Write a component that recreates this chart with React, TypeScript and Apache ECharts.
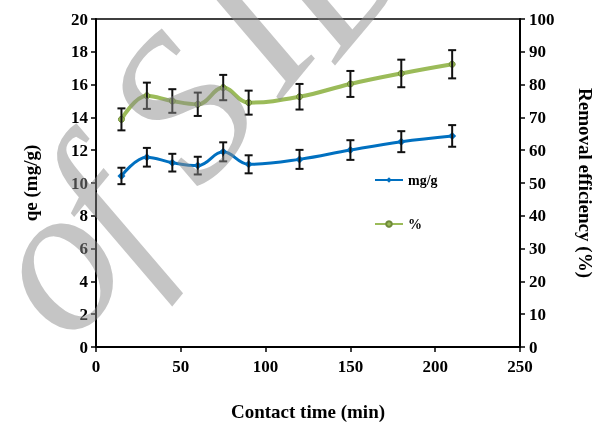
import React, { useEffect, useRef } from "react";
import * as echarts from "echarts";

const times = [15, 30, 45, 60, 75, 90, 120, 150, 180, 210];
const qe = [10.43, 11.57, 11.24, 11.06, 11.9, 11.14, 11.44, 12.01, 12.52, 12.87];
const qeErr = [0.5, 0.57, 0.54, 0.54, 0.58, 0.55, 0.58, 0.6, 0.64, 0.66];
const removal = [69.4, 76.6, 75.0, 74.0, 79.1, 74.5, 76.3, 80.2, 83.4, 86.2];
const removalErr = [3.35, 4.0, 3.6, 3.56, 3.86, 3.66, 3.9, 3.96, 4.2, 4.3];

const watermarkLetters = ["o", "f", "S", "I", "D"];
const watermarkPos = [
  [50, 262],
  [100, 212],
  [180, 107],
  [248, 28],
  [330, -40],
];

const FONT = "'Times New Roman', 'Liberation Serif', serif";

function errSeries(name: string, yIdx: number, vals: number[], errs: number[]) {
  return {
    name,
    type: "custom",
    yAxisIndex: yIdx,
    z: 5,
    data: times.map((t, i) => [t, vals[i] - errs[i], vals[i] + errs[i]]),
    renderItem: (_p: any, api: any) => {
      const lo = api.coord([api.value(0), api.value(1)]);
      const hi = api.coord([api.value(0), api.value(2)]);
      const w = 4;
      const st = { stroke: "#111", lineWidth: 2 };
      return {
        type: "group",
        children: [
          { type: "line", shape: { x1: lo[0], y1: lo[1], x2: hi[0], y2: hi[1] }, style: st },
          { type: "line", shape: { x1: lo[0] - w, y1: lo[1], x2: lo[0] + w, y2: lo[1] }, style: st },
          { type: "line", shape: { x1: hi[0] - w, y1: hi[1], x2: hi[0] + w, y2: hi[1] }, style: st },
        ],
      };
    },
  };
}

export default function App() {
  const ref = useRef<HTMLDivElement>(null);
  useEffect(() => {
    const chart = echarts.init(ref.current!, null, { renderer: "svg" });
    const lbl = { fontFamily: FONT, fontWeight: "bold", fontSize: 17, color: "#000" };
    const axisLine = { show: true, lineStyle: { color: "#000", width: 2 } };
    const tick = { show: true, length: 5, lineStyle: { color: "#000", width: 1.5 } };
    const title = { fontFamily: FONT, fontWeight: "bold", fontSize: 19, color: "#000" };
    chart.setOption({
      animation: false,
      textStyle: { fontFamily: FONT },
      grid: {
        left: 96,
        right: 80,
        top: 19,
        bottom: 78,
        show: true,
        borderColor: "#000",
        borderWidth: 1.5,
        outerBoundsMode: "none",
      },
      legend: {
        data: ["mg/g", "%"],
        orient: "vertical",
        left: 369,
        top: 168,
        itemGap: 30,
        itemWidth: 28,
        itemHeight: 7,
        textStyle: { fontFamily: FONT, fontWeight: "bold", fontSize: 14, color: "#000" },
      },
      xAxis: {
        type: "value",
        min: 0,
        max: 250,
        interval: 50,
        name: "Contact time (min)",
        nameLocation: "middle",
        nameGap: 55,
        nameTextStyle: title,
        axisLine,
        axisTick: tick,
        axisLabel: { ...lbl, margin: 11 },
        splitLine: { show: false },
      },
      yAxis: [
        {
          type: "value",
          min: 0,
          max: 20,
          interval: 2,
          name: "qe (mg/g)",
          nameLocation: "middle",
          nameGap: 56,
          nameRotate: 90,
          nameTextStyle: title,
          axisLine,
          axisTick: tick,
          axisLabel: { ...lbl, margin: 8 },
          splitLine: { show: false },
        },
        {
          type: "value",
          min: 0,
          max: 100,
          interval: 10,
          position: "right",
          name: "Removal efficiency (%)",
          nameLocation: "middle",
          nameGap: 56,
          nameRotate: -90,
          nameTextStyle: title,
          axisLine,
          axisTick: tick,
          axisLabel: { ...lbl, margin: 9 },
          splitLine: { show: false },
        },
      ],
      series: [
        {
          name: "mg/g",
          type: "line",
          yAxisIndex: 0,
          smooth: 0.4,
          data: times.map((t, i) => [t, qe[i]]),
          symbol: "diamond",
          symbolSize: 8,
          itemStyle: { color: "#0070c0" },
          lineStyle: { color: "#0070c0", width: 3 },
          z: 3,
        },
        {
          name: "%",
          type: "line",
          yAxisIndex: 1,
          smooth: 0.4,
          data: times.map((t, i) => [t, removal[i]]),
          symbol: "circle",
          symbolSize: 6,
          itemStyle: { color: "#9bbb59", borderColor: "#6f8a3a", borderWidth: 1 },
          lineStyle: { color: "#9bbb59", width: 4 },
          z: 3,
        },
        errSeries("errQ", 0, qe, qeErr),
        errSeries("errR", 1, removal, removalErr),
      ],
      graphic: watermarkLetters.map((ch, i) => ({
        type: "text",
        x: watermarkPos[i][0],
        y: watermarkPos[i][1],
        rotation: 0.88,
        z: 100,
        silent: true,
        style: {
          text: ch,
          fontFamily: FONT,
          fontStyle: "italic",
          fontSize: 210,
          fill: "rgba(140,140,140,0.5)",
          align: "center",
          verticalAlign: "middle",
        },
      })),
    });
    return () => chart.dispose();
  }, []);
  return <div ref={ref} style={{ position: "fixed", left: 0, top: 0, width: 600, height: 425 }} />;
}
